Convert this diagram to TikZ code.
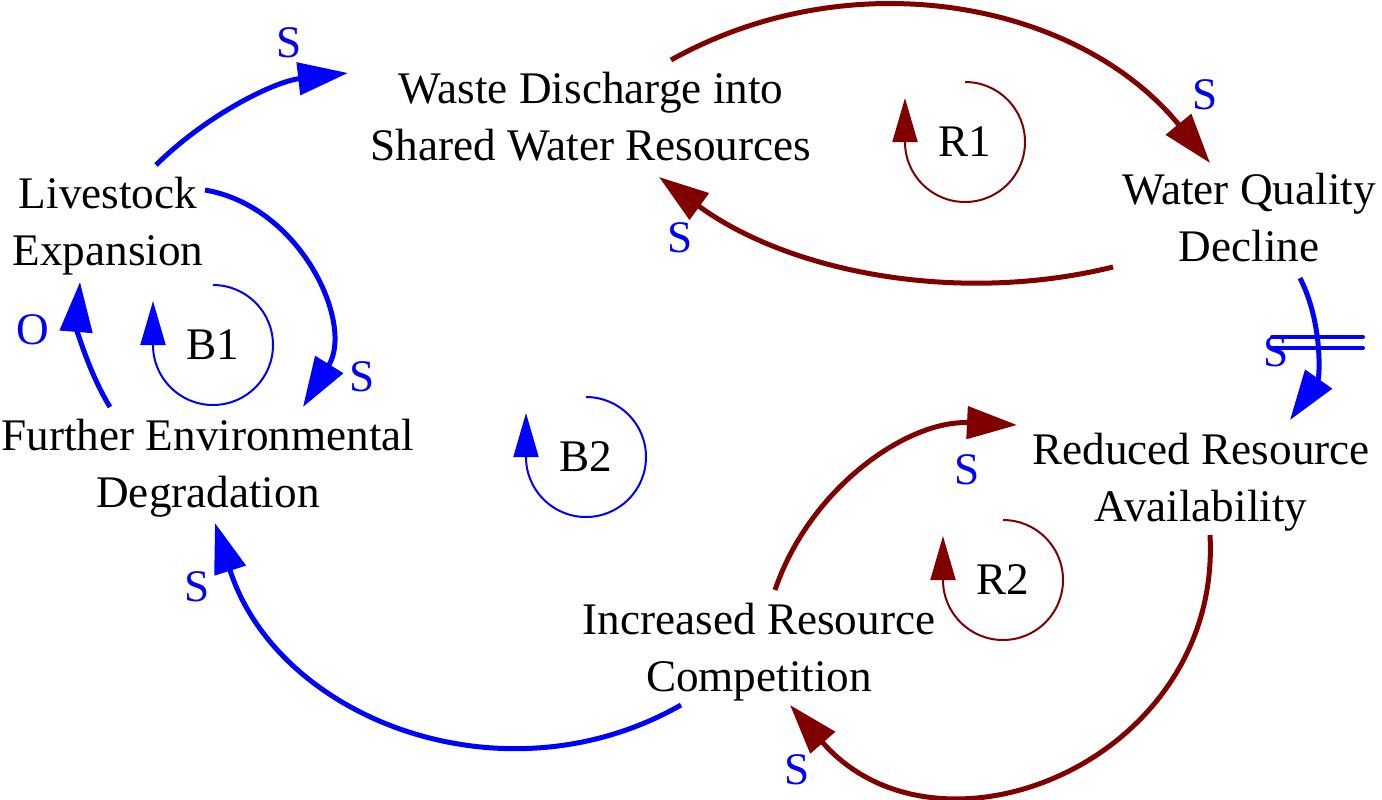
\documentclass[tikz,border=0pt]{standalone}
\usepackage{fontspec}
\setmainfont{Liberation Serif}
\newfontfamily\cldfont{Liberation Serif}
\usetikzlibrary{arrows.meta,calc}
\definecolor{cldblue}{RGB}{0,0,255}
\definecolor{cldred}{RGB}{128,0,0}

\begin{document}
\begin{tikzpicture}[x=0.5pt,y=0.5pt,
    var/.style={align=center,inner sep=0pt,font=\cldfont\fontsize{22.6}{28.5}\selectfont},
    pol/.style={text=cldblue,inner sep=0pt,font=\cldfont\fontsize{22.6}{28.5}\selectfont},
    link/.style={line width=2.5pt,-{Triangle[length=25pt,width=16pt]}},
    loopsym/.style={line width=1pt,-{Triangle[length=22pt,width=12.5pt]}},
    delaymark/.style={line width=2pt,line cap=round}]
    \useasboundingbox (0,0) rectangle (1382,-799);
    % variables
    \node[var] (lve) at (108,-226) {Livestock\\Expansion};
    \node[var] (wst) at (591,-117) {Waste Discharge into\\Shared Water Resources};
    \node[var] (wqd) at (1249,-218) {Water Quality\\Decline};
    \node[var] (rra) at (1201,-482) {Reduced Resource\\Availability};
    \node[var] (irc) at (759,-652) {Increased Resource\\Competition};
    \node[var] (fed) at (208,-468) {Further Environmental\\Degradation};
    % links
    \draw[link,cldblue] ($(lve)+(48,61)$) to[bend left=19,looseness=0.88] ($(wst)+(-243,44)$);
    \draw[link,cldblue] ($(lve)+(97,36)$) to[bend left=56,looseness=1.05] ($(fed)+(95,61)$);
    \draw[link,cldblue] ($(fed)+(-98,61)$) to[bend left=18,looseness=0.87] ($(lve)+(-28,-56)$);
    \draw[link,cldred] ($(wst)+(80,57)$) to[bend left=40,looseness=0.97] ($(wqd)+(-39,55)$);
    \draw[link,cldred] ($(wqd)+(-136,-49)$) to[bend left=25,looseness=0.89] ($(wst)+(68,-60)$);
    \draw[link,cldblue] ($(wqd)+(51,-60)$) to[bend left=31,looseness=0.92] ($(rra)+(89,62)$);
    \draw[link,cldred] ($(rra)+(9,-53)$) to[bend left=71,looseness=1.28] ($(irc)+(31,-53)$);
    \draw[link,cldred] ($(irc)+(16,62)$) to[bend left=37,looseness=0.95] ($(rra)+(-184,57)$);
    \draw[link,cldblue] ($(irc)+(-78,-53)$) to[bend left=51,looseness=1.05] ($(fed)+(7,-55)$);
    % delay
    \draw[delaymark,cldblue] (1272,-337) -- (1363,-337);
    \draw[delaymark,cldblue] (1272,-348) -- (1363,-348);
    % polarities
    \node[pol] (p1) at (289,-43) {S};
    \node[pol] (p2) at (362,-377) {S};
    \node[pol] (p3) at (33,-330) {O};
    \node[pol] (p4) at (1205,-95) {S};
    \node[pol] (p5) at (680,-238) {S};
    \node[pol] (p6) at (1276,-352) {S};
    \node[pol] (p7) at (797,-770) {S};
    \node[pol] (p8) at (967,-470) {S};
    \node[pol] (p9) at (197,-587) {S};
    % loops
    \node[var] (b1) at (213,-345) {B1};
    \node[var] (b2) at (586,-457) {B2};
    \node[var] (r1) at (965,-142) {R1};
    \node[var] (r2) at (1003,-580) {R2};
    \draw[loopsym,cldblue] ($(b1)+(0,60)$) arc[start angle=90,end angle=-180,radius=60] -- ++(0,44);
    \draw[loopsym,cldblue] ($(b2)+(0,60)$) arc[start angle=90,end angle=-180,radius=60] -- ++(0,44);
    \draw[loopsym,cldred] ($(r1)+(0,60)$) arc[start angle=90,end angle=-180,radius=60] -- ++(0,44);
    \draw[loopsym,cldred] ($(r2)+(0,60)$) arc[start angle=90,end angle=-180,radius=60] -- ++(0,44);
\end{tikzpicture}
\end{document}
